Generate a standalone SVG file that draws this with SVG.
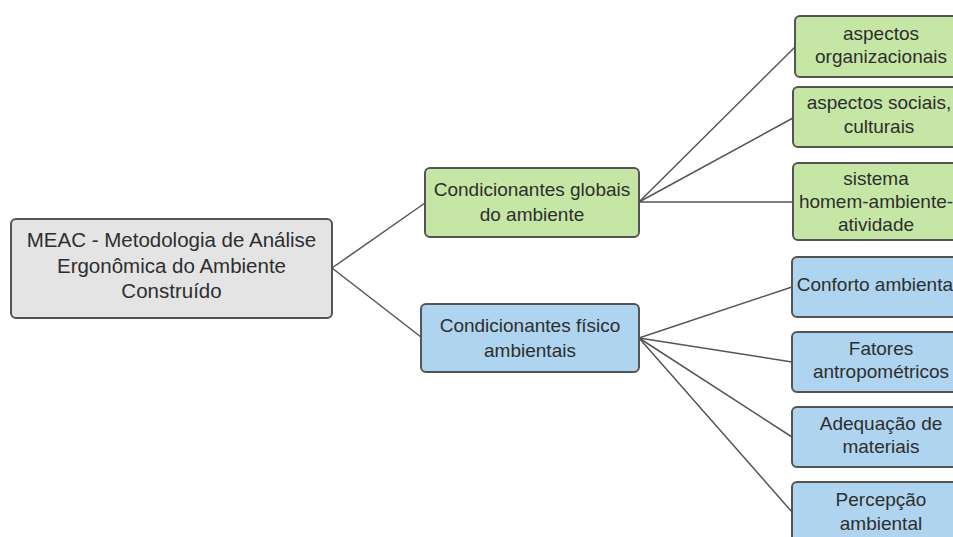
<svg xmlns="http://www.w3.org/2000/svg" width="953" height="537" viewBox="0 0 953 537">
  <style>
    .box { stroke: #545454; stroke-width: 2; }
    .root { fill: #e4e4e4; }
    .green { fill: #c6e6a6; }
    .blue { fill: #afd4ef; }
    text { font-family: "Liberation Sans", Arial, sans-serif; font-size: 19px; fill: #2e2e2e; text-anchor: middle; }
    .big { font-size: 20.5px; }
    .edge { stroke: #555555; stroke-width: 1.5; fill: none; }
  </style>
  <rect width="953" height="537" fill="#ffffff"/>

  <!-- connectors -->
  <g id="connectors">
    <line class="edge" x1="332" y1="268" x2="425" y2="203"/>
    <line class="edge" x1="332" y1="268" x2="421" y2="337"/>
    <line class="edge" x1="639" y1="202" x2="795" y2="47"/>
    <line class="edge" x1="639" y1="202" x2="793" y2="118"/>
    <line class="edge" x1="639" y1="202" x2="793" y2="202"/>
    <line class="edge" x1="639" y1="338" x2="792" y2="287"/>
    <line class="edge" x1="639" y1="338" x2="792" y2="362"/>
    <line class="edge" x1="639" y1="338" x2="792" y2="437"/>
    <line class="edge" x1="639" y1="338" x2="792" y2="512"/>
  </g>

  <!-- root -->
  <g id="meac">
    <rect class="box root" x="11" y="219" width="321" height="99" rx="5"/>
    <text class="big" x="171.5" y="247">MEAC - Metodologia de Análise</text>
    <text class="big" x="171.5" y="272.5">Ergonômica do Ambiente</text>
    <text class="big" x="171.5" y="298">Construído</text>
  </g>

  <!-- second level -->
  <g id="globais">
    <rect class="box green" x="425" y="168" width="214" height="69" rx="5"/>
    <text x="532" y="196">Condicionantes globais</text>
    <text x="532" y="221">do ambiente</text>
  </g>
  <g id="fisico">
    <rect class="box blue" x="421" y="304" width="218" height="68" rx="5"/>
    <text x="530" y="332">Condicionantes físico</text>
    <text x="530" y="357">ambientais</text>
  </g>

  <!-- leaves: global conditions -->
  <g id="organizacionais">
    <rect class="box green" x="795" y="16" width="175" height="61" rx="5"/>
    <text x="881" y="39.5">aspectos</text>
    <text x="881" y="63">organizacionais</text>
  </g>
  <g id="sociais">
    <rect class="box green" x="793" y="87" width="177" height="60" rx="5"/>
    <text x="879" y="109">aspectos sociais,</text>
    <text x="879" y="133">culturais</text>
  </g>
  <g id="sistema">
    <rect class="box green" x="793" y="163" width="177" height="77" rx="5"/>
    <text x="876" y="185">sistema</text>
    <text x="876" y="208">homem-ambiente-</text>
    <text x="876" y="231">atividade</text>
  </g>

  <!-- leaves: physical conditions -->
  <g id="conforto">
    <rect class="box blue" x="792" y="257" width="178" height="60" rx="5"/>
    <text x="877" y="291">Conforto ambiental</text>
  </g>
  <g id="fatores">
    <rect class="box blue" x="792" y="332" width="178" height="60" rx="5"/>
    <text x="881" y="355">Fatores</text>
    <text x="881" y="378">antropométricos</text>
  </g>
  <g id="materiais">
    <rect class="box blue" x="792" y="407" width="178" height="60" rx="5"/>
    <text x="881" y="430">Adequação de</text>
    <text x="881" y="453">materiais</text>
  </g>
  <g id="percepcao">
    <rect class="box blue" x="792" y="482" width="178" height="64" rx="5"/>
    <text x="881" y="506">Percepção</text>
    <text x="881" y="530">ambiental</text>
  </g>
</svg>
